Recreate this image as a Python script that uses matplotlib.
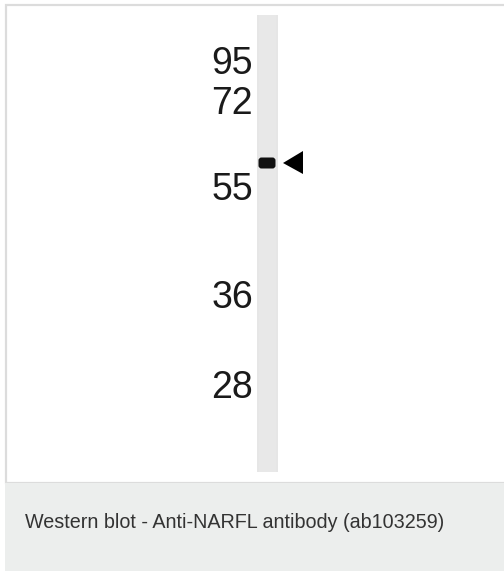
import matplotlib.pyplot as plt
from matplotlib.patches import Rectangle, FancyBboxPatch, Polygon

# marker ladder (kDa) and where each sits on the blot (pixel rows, label centres)
marker_kda = ["95", "72", "55", "36", "28"]
marker_y = [61, 101, 186, 295, 384]
band_y = 163          # detected NARFL band
caption = "Western blot - Anti-NARFL antibody (ab103259)"

W, H = 504, 571
fig = plt.figure(figsize=(W / 100, H / 100), dpi=100)
ax = fig.add_axes([0, 0, 1, 1])
ax.set_xlim(0, W)
ax.set_ylim(H, 0)
ax.axis("off")

# frame around the image + caption panel
ax.add_patch(Rectangle((5.5, 4.5), W, 478, facecolor="white", edgecolor="#dcdcdc", lw=1.6))
ax.add_patch(Rectangle((5, 483), W, H - 483, facecolor="#eceeed", edgecolor="none"))

# lane
ax.add_patch(Rectangle((257, 15), 21, 457, facecolor="#e6e6e6", edgecolor="none"))
ax.add_patch(Rectangle((259, 15), 17, 457, facecolor="#e8e8e8", edgecolor="none"))

# band
ax.add_patch(FancyBboxPatch((259.5, band_y - 4.5), 15, 9,
                            boxstyle="round,pad=1,rounding_size=3",
                            facecolor="#111111", edgecolor="none"))

# arrow
ax.add_patch(Polygon([(283, band_y), (303, band_y - 12), (303, band_y + 11)],
                     closed=True, facecolor="black", edgecolor="none"))

# marker labels (baseline = centre + half the digit height)
for lab, y in zip(marker_kda, marker_y):
    ax.text(253, y + 13.5, lab, ha="right", va="baseline", fontsize=27, color="#1a1a1a",
            family=["Liberation Sans Narrow", "Liberation Sans", "DejaVu Sans"])

ax.text(25, 528, caption, ha="left", va="baseline", fontsize=14.2, color="#333333",
        family=["Liberation Sans", "DejaVu Sans"])

fig.savefig("out.png", dpi=100)
